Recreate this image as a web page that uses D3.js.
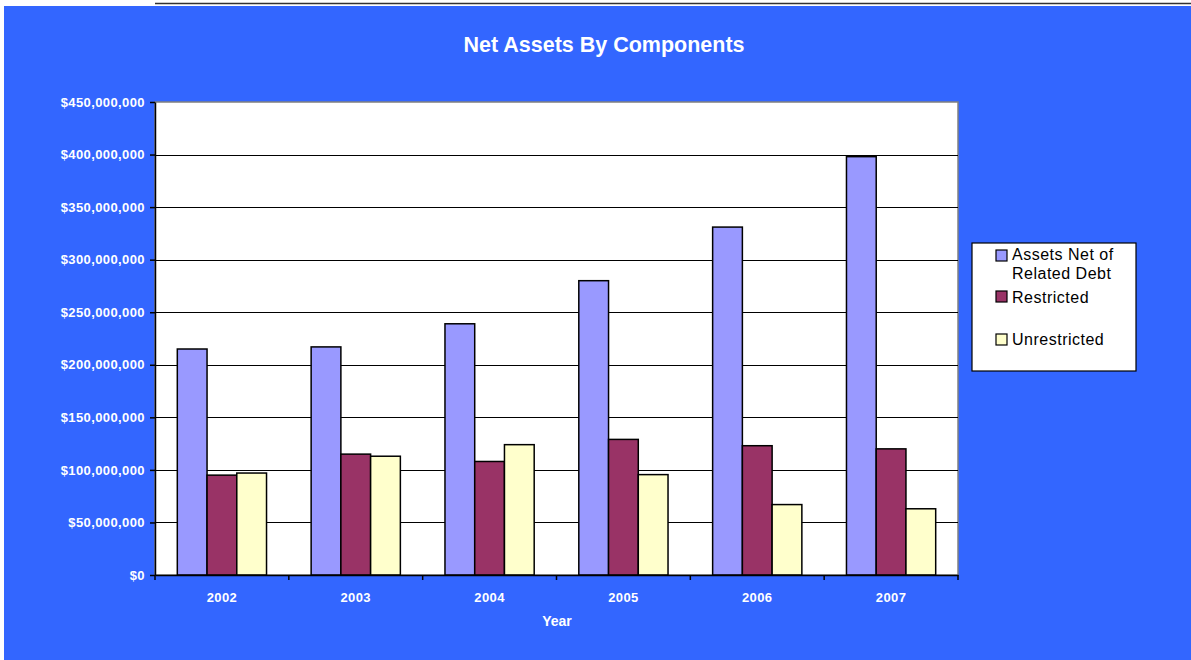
<!DOCTYPE html>
<html>
<head>
<meta charset="utf-8">
<script src="https://cdn.jsdelivr.net/npm/d3@7"></script>
<style>
  html, body { margin: 0; padding: 0; background: #ffffff; }
  svg { display: block; }
  text { font-family: "Liberation Sans", Arial, sans-serif; }
</style>
</head>
<body>
<svg id="chart" width="1191" height="660"></svg>
<script>
// Net assets by component, fiscal years 2002-2007
const years = ["2002", "2003", "2004", "2005", "2006", "2007"];
const seriesNames = ["Assets Net of Related Debt", "Restricted", "Unrestricted"];
const assetsNetOfDebt = [215e6, 217e6, 239e6, 280e6, 331e6, 398e6];
const restricted = [95e6, 115e6, 108e6, 129e6, 123e6, 120e6];
const unrestricted = [97e6, 113e6, 124e6, 95.5e6, 67e6, 63e6];
const yTicks = [0, 50e6, 100e6, 150e6, 200e6, 250e6, 300e6, 350e6, 400e6, 450e6];
const seriesColors = ["#9999FF", "#993366", "#FFFFCC"];

const seriesValues = [assetsNetOfDebt, restricted, unrestricted];

const svg = d3.select("#chart");
const W = 1191, H = 660;
const plot = { left: 155, right: 958, top: 102, bottom: 575 };

// page frame
svg.append("rect").attr("x", 0).attr("y", 0).attr("width", W).attr("height", H).attr("fill", "#ffffff");
svg.append("line").attr("x1", 155).attr("x2", W).attr("y1", 3.5).attr("y2", 3.5)
  .attr("stroke", "#333333").attr("stroke-width", 1.5);
svg.append("rect").attr("x", 4).attr("y", 6).attr("width", W - 4).attr("height", H - 6).attr("fill", "#3366FF");

// title
svg.append("text").attr("x", 604).attr("y", 52).attr("text-anchor", "middle")
  .attr("fill", "#ffffff").attr("font-size", 21.5).attr("font-weight", "bold")
  .text("Net Assets By Components");

// scales
const x0 = d3.scaleBand().domain(years).range([plot.left, plot.right]).padding(0);
const bw = x0.bandwidth() / 4.5;
const x1 = d3.scaleBand().domain(seriesNames)
  .range([(x0.bandwidth() - 3 * bw) / 2, (x0.bandwidth() + 3 * bw) / 2]).padding(0);
const y = d3.scaleLinear().domain([0, 450e6]).range([plot.bottom, plot.top]);

// plot area
svg.append("rect").attr("x", plot.left).attr("y", plot.top)
  .attr("width", plot.right - plot.left).attr("height", plot.bottom - plot.top)
  .attr("fill", "#ffffff").attr("stroke", "#808080").attr("stroke-width", 1.5);

// gridlines
svg.append("g").selectAll("line").data(yTicks.filter(v => v > 0 && v < 450e6)).join("line")
  .attr("x1", plot.left).attr("x2", plot.right)
  .attr("y1", d => Math.round(y(d)) + 0.5).attr("y2", d => Math.round(y(d)) + 0.5)
  .attr("stroke", "#000000").attr("stroke-width", 1);

// bars
const groups = svg.append("g").selectAll("g").data(years).join("g")
  .attr("transform", d => `translate(${x0(d)},0)`);
groups.selectAll("rect")
  .data((yr, i) => seriesNames.map((s, k) => ({ s, k, v: seriesValues[k][i] })))
  .join("rect")
  .attr("x", d => x1(d.s))
  .attr("width", x1.bandwidth())
  .attr("y", d => y(d.v))
  .attr("height", d => y(0) - y(d.v))
  .attr("fill", d => seriesColors[d.k])
  .attr("stroke", "#000000").attr("stroke-width", 1.5);

// y axis
const yAxis = d3.axisLeft(y).tickValues(yTicks).tickSizeInner(5).tickSizeOuter(0)
  .tickPadding(5).tickFormat(d => "$" + d3.format(",")(d));
const gy = svg.append("g").attr("transform", `translate(${plot.left},0)`).call(yAxis);
gy.select(".domain").attr("stroke", "#000000").attr("stroke-width", 1.5);
gy.selectAll(".tick line").attr("stroke", "#000000").attr("stroke-width", 1.5);
gy.selectAll(".tick text").attr("fill", "#ffffff").attr("font-size", 13)
  .attr("font-weight", "bold").attr("font-family", "Liberation Sans, Arial, sans-serif")
  .style("letter-spacing", "0.4px");

// x axis
const xAxis = d3.axisBottom(x0).tickSize(0).tickPadding(18);
const gx = svg.append("g").attr("transform", `translate(0,${plot.bottom})`).call(xAxis);
gx.select(".domain").attr("stroke", "#000000").attr("stroke-width", 1.5);
gx.selectAll(".tick text").attr("fill", "#ffffff").attr("font-size", 13)
  .attr("font-weight", "bold").attr("font-family", "Liberation Sans, Arial, sans-serif")
  .style("letter-spacing", "0.4px");
// category separators
svg.append("g").selectAll("line").data(years.concat(["end"])).join("line")
  .attr("x1", d => d === "end" ? plot.right : x0(d))
  .attr("x2", d => d === "end" ? plot.right : x0(d))
  .attr("y1", plot.bottom).attr("y2", plot.bottom + 5)
  .attr("stroke", "#000000").attr("stroke-width", 1.5);

svg.append("text").attr("x", 557).attr("y", 626).attr("text-anchor", "middle")
  .attr("fill", "#ffffff").attr("font-size", 14).attr("font-weight", "bold").text("Year");

// legend
const lg = svg.append("g");
lg.append("rect").attr("x", 972).attr("y", 243).attr("width", 164).attr("height", 128)
  .attr("fill", "#ffffff").attr("stroke", "#000000").attr("stroke-width", 1.2);
const legendRows = [
  { lines: ["Assets Net of", "Related Debt"], sy: 250, ty: 259.5 },
  { lines: ["Restricted"], sy: 291, ty: 302.5 },
  { lines: ["Unrestricted"], sy: 334, ty: 345 }
];
legendRows.forEach((r, k) => {
  lg.append("rect").attr("x", 996).attr("y", r.sy).attr("width", 11).attr("height", 11)
    .attr("fill", seriesColors[k]).attr("stroke", "#000000").attr("stroke-width", 1.2);
  r.lines.forEach((t, j) => {
    lg.append("text").attr("x", 1012).attr("y", r.ty + j * 19.5)
      .attr("fill", "#000000").attr("font-size", 16).style("letter-spacing", "0.5px").text(t);
  });
});
</script>
</body>
</html>
